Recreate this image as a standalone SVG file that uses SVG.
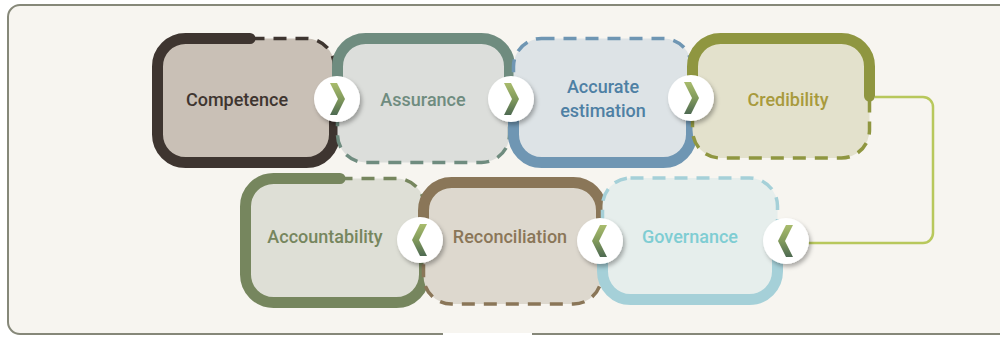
<svg xmlns="http://www.w3.org/2000/svg" xmlns:xlink="http://www.w3.org/1999/xlink" width="1000" height="337" viewBox="0 0 1000 337">
<defs>
<style>
.lbl{font-family:Roboto,"Liberation Sans",Arial,sans-serif;font-weight:500;font-size:18px;text-anchor:middle}
.dash{stroke-width:3.5;stroke-dasharray:13 9}
.solid{fill:none;stroke-width:11;stroke-linecap:round}
.circ{fill:#ffffff;filter:url(#sh)}
.chev{fill:url(#cg)}
</style>
<filter id="sh" x="-40%" y="-40%" width="180%" height="180%">
<feDropShadow dx="2" dy="3" stdDeviation="2" flood-color="#000" flood-opacity="0.3"/>
</filter>
<linearGradient id="cg" x1="0" y1="0" x2="0" y2="1">
<stop offset="0" stop-color="#a9bc6d"/>
<stop offset="0.5" stop-color="#819a5c"/>
<stop offset="1" stop-color="#4e6a52"/>
</linearGradient>
<path id="chv" d="M-7,-16 L0,-16 L8,0 L0,16 L-7,16 L1,0 Z"/>
</defs>
<rect x="8" y="5" width="1010" height="329" rx="12" fill="#f7f5f0" stroke="#868879" stroke-width="2"/>
<rect x="443" y="333" width="89" height="4" fill="#ffffff"/>

<g id="competence">
<rect x="157.5" y="38.5" width="177" height="124" rx="28" fill="#c9c0b6" stroke="#3e3530" class="dash"/>
<path class="solid" stroke="#3e3530" d="M250,38.5 H185.5 A28,28 0 0 0 157.5,66.5 V134.5 A28,28 0 0 0 185.5,162.5 H306.5 A28,28 0 0 0 334.5,134.5 V100"/>
<text class="lbl" x="237" y="106" fill="#3e3530">Competence</text>
</g>
<g id="assurance">
<rect x="337.5" y="38.5" width="172" height="124" rx="28" fill="#dcdedb" stroke="#6f8c7f" class="dash"/>
<path class="solid" stroke="#6f8c7f" d="M337.5,100 V66.5 A28,28 0 0 1 365.5,38.5 H481.5 A28,28 0 0 1 509.5,66.5 V100"/>
<text class="lbl" x="423" y="106" fill="#6f8c7f">Assurance</text>
</g>
<g id="accurate-estimation">
<rect x="513.5" y="38.5" width="178" height="124" rx="28" fill="#dde3e6" stroke="#6f96b3" class="dash"/>
<path class="solid" stroke="#6f96b3" d="M691.5,100 V134.5 A28,28 0 0 1 663.5,162.5 H541.5 A28,28 0 0 1 513.5,134.5 V100"/>
<text class="lbl" x="603" y="93" fill="#4e80a4">Accurate</text>
<text class="lbl" x="603" y="117" fill="#4e80a4">estimation</text>
</g>
<g id="credibility">
<rect x="692.5" y="38.5" width="177" height="119.5" rx="28" fill="#e3e1cc" stroke="#8f9640" class="dash"/>
<path class="solid" stroke="#8f9640" d="M692.5,100 V66.5 A28,28 0 0 1 720.5,38.5 H841.5 A28,28 0 0 1 869.5,66.5 V96"/>
<text class="lbl" x="788" y="106" fill="#a89a3c">Credibility</text>
</g>
<g id="accountability">
<rect x="245.5" y="178.5" width="179" height="124" rx="28" fill="#dedfd6" stroke="#76865e" class="dash"/>
<path class="solid" stroke="#76865e" d="M340,178.5 H273.5 A28,28 0 0 0 245.5,206.5 V274.5 A28,28 0 0 0 273.5,302.5 H396.5 A28,28 0 0 0 424.5,274.5 V240"/>
<text class="lbl" x="325" y="243" fill="#76865e">Accountability</text>
</g>
<g id="reconciliation">
<rect x="423.5" y="182.5" width="178" height="121.5" rx="28" fill="#ddd8ce" stroke="#8a7658" class="dash"/>
<path class="solid" stroke="#8a7658" d="M423.5,240 V210.5 A28,28 0 0 1 451.5,182.5 H573.5 A28,28 0 0 1 601.5,210.5 V240"/>
<text class="lbl" x="510" y="243" fill="#8a7658">Reconciliation</text>
</g>
<g id="governance">
<rect x="602.5" y="178" width="175" height="121.5" rx="28" fill="#e6eeec" stroke="#a5d0d8" class="dash"/>
<path class="solid" stroke="#a5d0d8" d="M777.5,240 V271.5 A28,28 0 0 1 749.5,299.5 H630.5 A28,28 0 0 1 602.5,271.5 V240"/>
<text class="lbl" x="690" y="243" fill="#7fcdd3">Governance</text>
</g>

<g id="connectors">
<path d="M875,97 H923 A10,10 0 0 1 933,107 V233 A10,10 0 0 1 923,243 H808" fill="none" stroke="#b8c85c" stroke-width="2.5"/>
<circle class="circ" cx="337" cy="99" r="23"/>
<use xlink:href="#chv" class="chev" transform="translate(337,99)"/>
<circle class="circ" cx="511" cy="99" r="23"/>
<use xlink:href="#chv" class="chev" transform="translate(511,99)"/>
<circle class="circ" cx="691" cy="98" r="23"/>
<use xlink:href="#chv" class="chev" transform="translate(691,98)"/>
<circle class="circ" cx="786" cy="241" r="23"/>
<use xlink:href="#chv" class="chev" transform="translate(786,241) scale(-1,1)"/>
<circle class="circ" cx="600" cy="241" r="23"/>
<use xlink:href="#chv" class="chev" transform="translate(600,241) scale(-1,1)"/>
<circle class="circ" cx="420" cy="240" r="23"/>
<use xlink:href="#chv" class="chev" transform="translate(420,240) scale(-1,1)"/>
</g>
</svg>
